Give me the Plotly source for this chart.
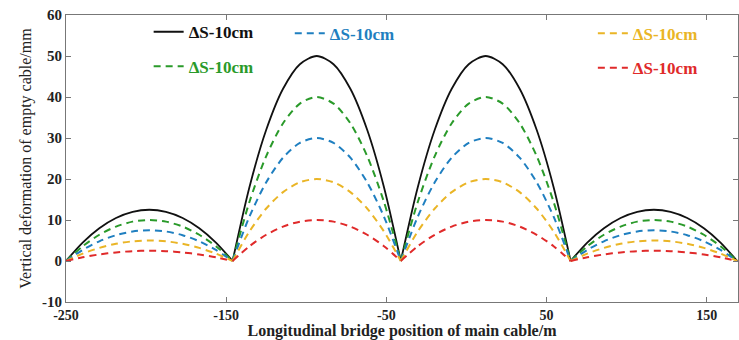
import plotly.graph_objects as go

# Longitudinal positions (m); None separates the four spans
x_pos = [-250, -239.6, -229.2, -218.8, -208.4, -198, -187.6, -177.2, -166.8, -156.4, -146, None,
         -146, -135.5, -125, -114.5, -104, -93.5, -83, -72.5, -62, -51.5, -41, None,
         -41, -30.4, -19.8, -9.2, 1.4, 12, 22.6, 33.2, 43.8, 54.4, 65, None,
         65, 75.4, 85.8, 96.2, 106.6, 117, 127.4, 137.8, 148.2, 158.6, 169]

# Vertical deformation (mm)
black = [0, 4.5, 8, 10.5, 12, 12.5, 12, 10.5, 8, 4.5, 0, None,
         0, 18, 32, 42, 48, 50, 48, 42, 32, 18, 0, None,
         0, 18, 32, 42, 48, 50, 48, 42, 32, 18, 0, None,
         0, 4.5, 8, 10.5, 12, 12.5, 12, 10.5, 8, 4.5, 0]
green = [0, 3.6, 6.4, 8.4, 9.6, 10, 9.6, 8.4, 6.4, 3.6, 0, None,
         0, 14.4, 25.6, 33.6, 38.4, 40, 38.4, 33.6, 25.6, 14.4, 0, None,
         0, 14.4, 25.6, 33.6, 38.4, 40, 38.4, 33.6, 25.6, 14.4, 0, None,
         0, 3.6, 6.4, 8.4, 9.6, 10, 9.6, 8.4, 6.4, 3.6, 0]
blue = [0, 2.7, 4.8, 6.3, 7.2, 7.5, 7.2, 6.3, 4.8, 2.7, 0, None,
        0, 10.8, 19.2, 25.2, 28.8, 30, 28.8, 25.2, 19.2, 10.8, 0, None,
        0, 10.8, 19.2, 25.2, 28.8, 30, 28.8, 25.2, 19.2, 10.8, 0, None,
        0, 2.7, 4.8, 6.3, 7.2, 7.5, 7.2, 6.3, 4.8, 2.7, 0]
yellow = [0, 1.8, 3.2, 4.2, 4.8, 5, 4.8, 4.2, 3.2, 1.8, 0, None,
          0, 7.2, 12.8, 16.8, 19.2, 20, 19.2, 16.8, 12.8, 7.2, 0, None,
          0, 7.2, 12.8, 16.8, 19.2, 20, 19.2, 16.8, 12.8, 7.2, 0, None,
          0, 1.8, 3.2, 4.2, 4.8, 5, 4.8, 4.2, 3.2, 1.8, 0]
red = [0, 0.9, 1.6, 2.1, 2.4, 2.5, 2.4, 2.1, 1.6, 0.9, 0, None,
       0, 3.6, 6.4, 8.4, 9.6, 10, 9.6, 8.4, 6.4, 3.6, 0, None,
       0, 3.6, 6.4, 8.4, 9.6, 10, 9.6, 8.4, 6.4, 3.6, 0, None,
       0, 0.9, 1.6, 2.1, 2.4, 2.5, 2.4, 2.1, 1.6, 0.9, 0]

series_names = ["ΔS-10cm", "ΔS-10cm", "ΔS-10cm", "ΔS-10cm", "ΔS-10cm"]
x_ticks = [-250, -150, -50, 50, 150]
y_ticks = [-10, 0, 10, 20, 30, 40, 50, 60]

FONT = "Liberation Serif"
DASH = "7px,5px"
specs = [
    (black, "#111111", "solid", 1.8, "legend"),
    (green, "#2a9a2a", DASH, 2, "legend2"),
    (blue, "#1f7fc0", DASH, 2, "legend3"),
    (yellow, "#eab526", DASH, 2, "legend4"),
    (red, "#e02a2a", DASH, 2, "legend5"),
]

fig = go.Figure()
for (ys, col, dash, w, lg), nm in zip(specs, series_names):
    fig.add_trace(go.Scatter(
        x=x_pos, y=ys, mode="lines", name="<b>" + nm + "</b>", legend=lg,
        showlegend=True,
        line=dict(color=col, dash=dash, width=w, shape="spline", smoothing=0.8),
        connectgaps=False))

def leg(x, y, col):
    return dict(x=x, y=y, xanchor="left", yanchor="middle", bgcolor="rgba(0,0,0,0)",
                font=dict(family=FONT, size=17, color=col), borderwidth=0)

fig.update_layout(
    width=739, height=340,
    showlegend=True,
    margin=dict(l=66, r=1, t=15, b=38),
    paper_bgcolor="white", plot_bgcolor="white",
    font=dict(family=FONT, size=14, color="#222"),
    legend=leg(0.123, 0.94, "#111111"),
    legend2=leg(0.123, 0.82, "#2a9a2a"),
    legend3=leg(0.333, 0.935, "#1f7fc0"),
    legend4=leg(0.784, 0.935, "#eab526"),
    legend5=leg(0.784, 0.815, "#e02a2a"),
    xaxis=dict(range=[-250, 169.5], tickvals=x_ticks, ticktext=["<b>%d</b>" % v for v in x_ticks],
               automargin=False,
               showgrid=False, zeroline=False, showline=True, mirror="ticks",
               linecolor="#777", linewidth=1, ticks="inside", ticklen=5, tickcolor="#777",
               tickfont=dict(family=FONT, size=14, color="#222"),
               title=dict(text="<b>Longitudinal bridge position of main cable/m</b>",
                          font=dict(family=FONT, size=16, color="#222"), standoff=0)),
    yaxis=dict(range=[-10, 60], tickvals=y_ticks, ticktext=["<b>%d</b>" % v for v in y_ticks],
               automargin=False,
               showgrid=False, zeroline=False, showline=True, mirror="ticks",
               linecolor="#777", linewidth=1, ticks="inside", ticklen=5, tickcolor="#777",
               tickfont=dict(family=FONT, size=15, color="#222"),
               title=dict(text="Vertical deformation of empty cable/mm",
                          font=dict(family=FONT, size=16, color="#222"), standoff=6)),
)

fig.write_html("out.html", config={"displayModeBar": False},
               post_script="document.body.style.margin='0';document.body.style.overflow='hidden';")
